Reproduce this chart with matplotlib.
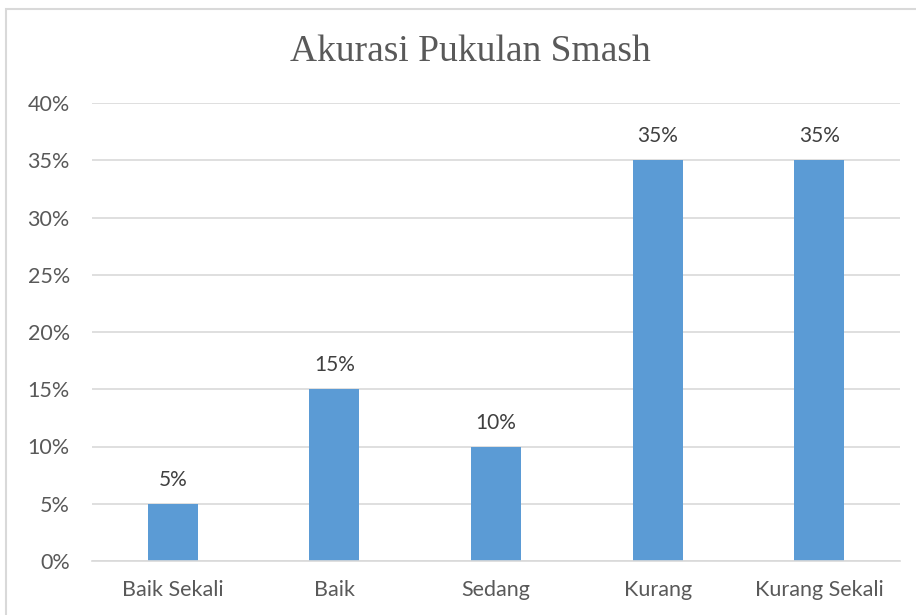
import matplotlib
matplotlib.use("Agg")
import matplotlib.pyplot as plt
from matplotlib.patches import Rectangle
from matplotlib.ticker import PercentFormatter

categories = ["Baik Sekali", "Baik", "Sedang", "Kurang", "Kurang Sekali"]
values = [0.05, 0.15, 0.10, 0.35, 0.35]
yticks = [0, 0.05, 0.10, 0.15, 0.20, 0.25, 0.30, 0.35, 0.40]

W, H = 916, 615
fig = plt.figure(figsize=(W / 100, H / 100), dpi=100)
ax = fig.add_axes([92 / W, 1 - 561 / H, (900 - 92) / W, (561 - 103) / H])

# chart frame like the Excel object border
fig.patches.append(Rectangle((6 / W, -0.05), 1.0, 1 - 9 / H + 0.05,
                             transform=fig.transFigure, fill=False,
                             ec="#d9d9d9", lw=1.5))

x = range(len(categories))
ax.bar(x, values, width=0.31, color="#5b9bd5", zorder=2)
for i, v in zip(x, values):
    ax.annotate(f"{v * 100:.0f}%", (i, v), xytext=(0, 10), textcoords="offset points",
                ha="center", va="bottom", fontsize=15, color="#404040", family="Lato")

ax.set_xlim(-0.5, len(categories) - 0.5)
ax.set_ylim(0, 0.40)
ax.set_yticks(yticks)
ax.yaxis.set_major_formatter(PercentFormatter(1.0, decimals=0))
ax.set_xticks(list(x))
ax.set_xticklabels(categories)
ax.grid(axis="y", color="#d9d9d9", lw=1.2, zorder=0)
for s in ["top", "right", "left"]:
    ax.spines[s].set_visible(False)
ax.spines["bottom"].set_color("#d9d9d9")
ax.spines["bottom"].set_linewidth(1.2)
ax.tick_params(length=0, labelsize=15.5, labelcolor="#595959")
ax.tick_params(axis="x", pad=14)
ax.tick_params(axis="y", pad=16)
for lab in ax.get_xticklabels() + ax.get_yticklabels():
    lab.set_family("Lato")

fig.text(470 / W, 1 - 52 / H, "Akurasi Pukulan Smash", ha="center", va="center",
         fontsize=27, color="#595959", family="Liberation Serif")

fig.savefig("out.png", dpi=100)
